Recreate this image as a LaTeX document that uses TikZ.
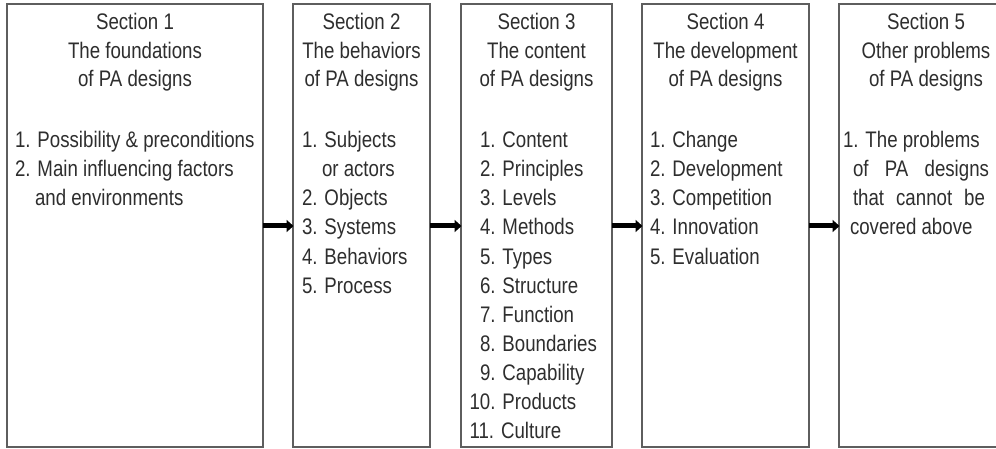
\documentclass[tikz,border=0pt]{standalone}
\usepackage{fontspec}
\setmainfont{Liberation Sans}[FakeStretch=0.83]
\usetikzlibrary{arrows.meta}
\definecolor{ink}{HTML}{2E2E2E}
\definecolor{frame}{HTML}{5E5E5E}
\tikzset{
  box/.style={draw=frame, line width=1.1pt, fill=white, rectangle, inner sep=0pt, outer sep=0pt},
  txt/.style={inner sep=0pt, outer sep=0pt, text=ink, font=\fontsize{22.5}{29}\selectfont},
  ttl/.style={txt, anchor=base},
  itm/.style={txt, anchor=base west},
  flow/.style={draw=black, line width=5pt, -{Triangle[length=7pt,width=12pt]}, shorten >=-0.5pt}
}
\begin{document}
\begin{tikzpicture}[x=1pt,y=-1pt]
\useasboundingbox (0,0) rectangle (996,449);
\fill[white] (0,0) rectangle (996,449);
\clip (0,0) rectangle (996,449);

% section frames
\node[box, minimum width=256pt, minimum height=443pt] (b1) at (135,225.5) {};
\node[box, minimum width=137pt, minimum height=443pt] (b2) at (361.5,225.5) {};
\node[box, minimum width=151pt, minimum height=443pt] (b3) at (536.5,225.5) {};
\node[box, minimum width=167pt, minimum height=443pt] (b4) at (725.5,225.5) {};
\node[box, minimum width=174pt, minimum height=443pt] (b5) at (926,225.5) {};

% flow arrows between sections
\coordinate (ay) at (0,226);
\draw[flow] (b1.east |- ay) -- (b2.west |- ay);
\draw[flow] (b2.east |- ay) -- (b3.west |- ay);
\draw[flow] (b3.east |- ay) -- (b4.west |- ay);
\draw[flow] (b4.east |- ay) -- (b5.west |- ay);

% Section 1
\node[ttl] (t1a) at (135,30) {Section 1};
\node[ttl] (t1b) at (135,59) {The foundations};
\node[ttl] (t1c) at (135,87) {of PA designs};
\node[itm] (i1a) at (15,148) {1. Possibility \& preconditions};
\node[itm] (i1b) at (15,177) {2. Main influencing factors};
\node[itm] (i1c) at (35,206) {and environments};

% Section 2
\node[ttl] (t2a) at (361.5,30) {Section 2};
\node[ttl] (t2b) at (361.5,59) {The behaviors};
\node[ttl] (t2c) at (361.5,87) {of PA designs};
\node[itm] (i2a) at (302,148) {1. Subjects};
\node[itm] (i2b) at (322,177) {or actors};
\node[itm] (i2c) at (302,206) {2. Objects};
\node[itm] (i2d) at (302,235) {3. Systems};
\node[itm] (i2e) at (302,264) {4. Behaviors};
\node[itm] (i2f) at (302,293) {5. Process};

% Section 3
\node[ttl] (t3a) at (536.5,30) {Section 3};
\node[ttl] (t3b) at (536.5,59) {The content};
\node[ttl] (t3c) at (536.5,87) {of PA designs};
\node[itm] (i3a) at (480,148) {1. Content};
\node[itm] (i3b) at (480,177) {2. Principles};
\node[itm] (i3c) at (480,206) {3. Levels};
\node[itm] (i3d) at (480,235) {4. Methods};
\node[itm] (i3e) at (480,264) {5. Types};
\node[itm] (i3f) at (480,293) {6. Structure};
\node[itm] (i3g) at (480,322) {7. Function};
\node[itm] (i3h) at (480,351) {8. Boundaries};
\node[itm] (i3i) at (480,380) {9. Capability};
\node[itm] (i3j) at (469.6,409) {10. Products};
\node[itm] (i3k) at (469.6,438) {11. Culture};

% Section 4
\node[ttl] (t4a) at (725.5,30) {Section 4};
\node[ttl] (t4b) at (725.5,59) {The development};
\node[ttl] (t4c) at (725.5,87) {of PA designs};
\node[itm] (i4a) at (650,148) {1. Change};
\node[itm] (i4b) at (650,177) {2. Development};
\node[itm] (i4c) at (650,206) {3. Competition};
\node[itm] (i4d) at (650,235) {4. Innovation};
\node[itm] (i4e) at (650,264) {5. Evaluation};

% Section 5
\node[ttl] (t5a) at (926,30) {Section 5};
\node[ttl] (t5b) at (926,59) {Other problems};
\node[ttl] (t5c) at (926,87) {of PA designs};
\node[itm] (i5a) at (843,148) {1. The problems};
\node[itm] (i5b) at (853,177) {\makebox[136pt][s]{of PA designs}};
\node[itm] (i5c) at (853,206) {\makebox[132pt][s]{that cannot be}};
\node[itm] (i5d) at (850,235) {covered above};
\end{tikzpicture}
\end{document}
